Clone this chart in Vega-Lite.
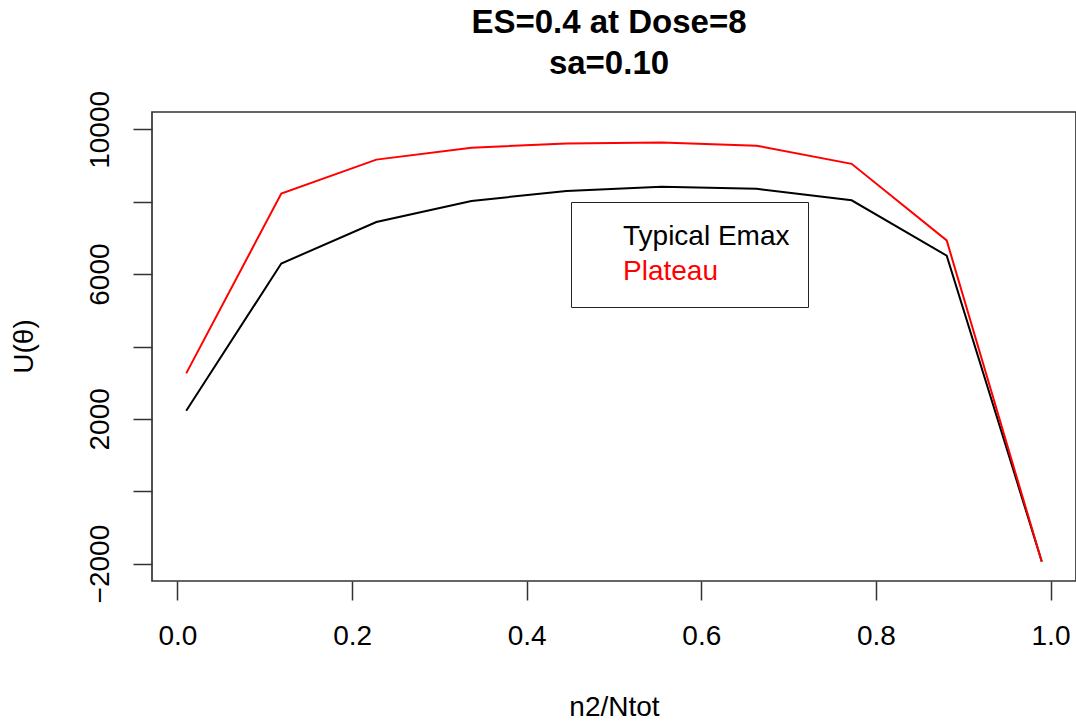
{
  "$schema": "https://vega.github.io/schema/vega-lite/v6.json",
  "width": 924,
  "height": 469,
  "autosize": {"type": "none"},
  "padding": {"left": 152, "top": 112, "right": 0, "bottom": 140},
  "background": "white",
  "title": {
    "text": ["ES=0.4 at Dose=8", "sa=0.10"],
    "fontSize": 33,
    "font": "Liberation Sans",
    "fontWeight": "bold",
    "color": "black",
    "anchor": "middle",
    "offset": 33,
    "dy": 57,
    "dx": -5,
    "lineHeight": 41.7,
    "baseline": "bottom"
  },
  "config": {
    "view": {"stroke": "#333", "strokeWidth": 1.7}
  },
  "data": {
    "values": [
      {"x": 0.01, "u": 2225, "model": "Typical Emax"},
      {"x": 0.1189, "u": 6293, "model": "Typical Emax"},
      {"x": 0.2278, "u": 7441, "model": "Typical Emax"},
      {"x": 0.3367, "u": 8021, "model": "Typical Emax"},
      {"x": 0.4456, "u": 8300, "model": "Typical Emax"},
      {"x": 0.5544, "u": 8413, "model": "Typical Emax"},
      {"x": 0.6633, "u": 8358, "model": "Typical Emax"},
      {"x": 0.7722, "u": 8040, "model": "Typical Emax"},
      {"x": 0.8811, "u": 6511, "model": "Typical Emax"},
      {"x": 0.99, "u": -1940, "model": "Typical Emax"},
      {"x": 0.01, "u": 3257, "model": "Plateau"},
      {"x": 0.1189, "u": 8225, "model": "Plateau"},
      {"x": 0.2278, "u": 9164, "model": "Plateau"},
      {"x": 0.3367, "u": 9495, "model": "Plateau"},
      {"x": 0.4456, "u": 9608, "model": "Plateau"},
      {"x": 0.5544, "u": 9636, "model": "Plateau"},
      {"x": 0.6633, "u": 9550, "model": "Plateau"},
      {"x": 0.7722, "u": 9048, "model": "Plateau"},
      {"x": 0.8811, "u": 6931, "model": "Plateau"},
      {"x": 0.99, "u": -1950, "model": "Plateau"}
    ]
  },
  "mark": {"type": "line", "strokeWidth": 2, "clip": true},
  "encoding": {
    "x": {
      "field": "x",
      "type": "quantitative",
      "scale": {"domain": [-0.0292, 1.0292], "nice": false, "zero": false},
      "axis": {
        "values": [0, 0.2, 0.4, 0.6, 0.8, 1],
        "format": ".1f",
        "domain": false,
        "grid": false,
        "tickSize": 19,
        "tickColor": "#333",
        "tickWidth": 1.5,
        "labelFontSize": 28,
        "labelFont": "Liberation Sans",
        "labelColor": "black",
        "labelBaseline": "alphabetic",
        "labelPadding": 44,
        "labelFlush": false,
        "labelOverlap": false,
        "title": "n2/Ntot",
        "titleFontSize": 28,
        "titleFont": "Liberation Sans",
        "titleFontWeight": "normal",
        "titleColor": "black",
        "titleX": 462,
        "titleY": 134,
        "titleBaseline": "alphabetic",
        "titleAlign": "center"
      }
    },
    "y": {
      "field": "u",
      "type": "quantitative",
      "scale": {"domain": [-2480, 10480], "nice": false, "zero": false},
      "axis": {
        "values": [-2000, 0, 2000, 4000, 6000, 8000, 10000],
        "labelExpr": "abs(datum.value) % 4000 == 2000 ? format(datum.value, 'd') : ''",
        "domain": false,
        "grid": false,
        "tickSize": 19,
        "tickColor": "#333",
        "tickWidth": 1.5,
        "labelFontSize": 28,
        "labelFont": "Liberation Sans",
        "labelColor": "black",
        "labelAngle": 270,
        "labelAlign": "center",
        "labelBaseline": "alphabetic",
        "labelPadding": 25,
        "labelFlush": false,
        "labelOverlap": false,
        "title": "U(θ)",
        "titleFontSize": 28,
        "titleFont": "Liberation Sans",
        "titleFontWeight": "normal",
        "titleColor": "black",
        "titleAngle": 270,
        "titleX": -120,
        "titleY": 234,
        "titleBaseline": "alphabetic",
        "titleAlign": "center"
      }
    },
    "color": {
      "field": "model",
      "type": "nominal",
      "scale": {"domain": ["Typical Emax", "Plateau"], "range": ["#000000", "#ff0000"]},
      "legend": {
        "orient": "none",
        "legendX": 419,
        "legendY": 90,
        "title": null,
        "strokeColor": "#222",
        "fillColor": "white",
        "padding": 18,
        "symbolType": "square",
        "symbolSize": 1156,
        "symbolOpacity": 0,
        "symbolStrokeWidth": 0,
        "labelFontSize": 28,
        "labelFont": "Liberation Sans",
        "labelOffset": 0,
        "rowPadding": 1,
        "labelLimit": 400,
        "encode": {
          "labels": {
            "update": {
              "fill": {"signal": "datum.value === 'Plateau' ? '#ff0000' : '#000000'"}
            }
          }
        }
      }
    }
  }
}
